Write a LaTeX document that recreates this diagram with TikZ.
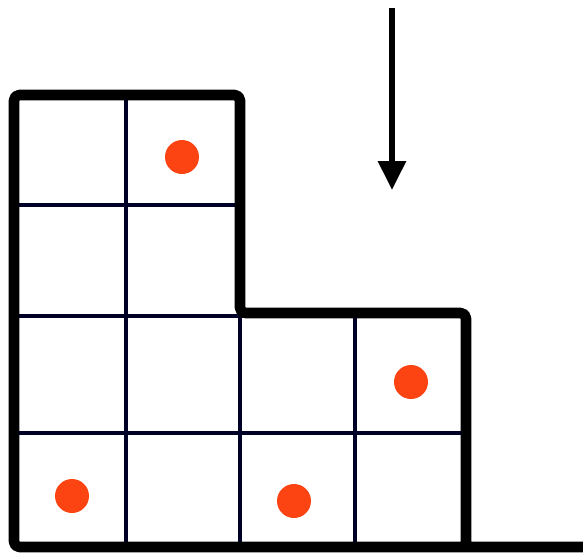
\documentclass[tikz,border=0pt]{standalone}
\usepackage{tikz}
\usetikzlibrary{arrows.meta}
\definecolor{dotred}{RGB}{252,68,18}
\tikzset{
  rim/.style   ={line width=6pt, line join=round, line cap=round, rounded corners=3pt},
  cell/.style  ={line width=2pt, draw=black!85!blue},
  token/.style ={fill=dotred},
  fall/.style  ={-{Triangle[length=16.5pt, width=15.5pt]}, line width=3pt},
}

\begin{document}
\begin{tikzpicture}[x=0.02cm, y=-0.02cm]
  \useasboundingbox (0,0) rectangle (583,555);

  % ---- inner grid lines ----------------------------------------------
  \draw[cell] (126,95) -- (126,547);
  \draw[cell] (240,316) -- (240,547);
  \draw[cell] (355,316) -- (355,547);
  \draw[cell] (14,205) -- (240,205);
  \draw[cell] (14,316) -- (466,316);
  \draw[cell] (14,433) -- (466,433);

  % ---- outline of the shape ------------------------------------------
  \draw[rim] (583,547) -- (14,547) -- (14,95) -- (240,95) -- (240,313)
             -- (466,313) -- (466,547);

  % ---- tokens --------------------------------------------------------
  \foreach \px/\py in {182/157, 411/382, 72/496, 294/501}
    \fill[token] (\px,\py) circle[radius=17];

  % ---- drop arrow ----------------------------------------------------
  \coordinate (droptop) at (392,8);
  \coordinate (droptip) at (392,190);
  \draw[fall] (droptop) -- (droptip);
\end{tikzpicture}
\end{document}
